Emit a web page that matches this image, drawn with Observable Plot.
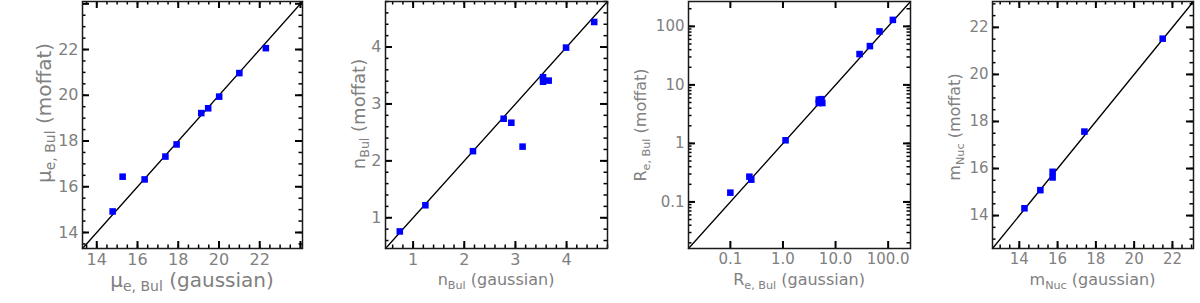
<!DOCTYPE html>
<html>
<head>
<meta charset="utf-8">
<script src="https://cdn.jsdelivr.net/npm/d3@7"></script>
<script src="https://cdn.jsdelivr.net/npm/@observablehq/plot@0.6"></script>
<style>
  html, body { margin: 0; padding: 0; background: #fff; }
  #wrap { position: relative; width: 1200px; height: 303px; overflow: hidden; }
  #wrap svg { position: absolute; left: 0; top: 0; }
</style>
</head>
<body>
<div id="wrap"></div>
<script>
// ---------- data ----------
// Panel 1: mu_e,Bul
const muGauss  = [14.78, 15.27, 16.35, 17.37, 17.92, 19.13, 19.47, 20.01, 21.00, 22.30];
const muMoffat = [14.92, 16.44, 16.32, 17.32, 17.85, 19.22, 19.43, 19.94, 20.97, 22.06];
const muDomain = [13.3, 24.1];
const muTicks = [14, 16, 18, 20, 22];
const muTickLabels = ["14", "16", "18", "20", "22"];

// Panel 2: n_Bul
const nGauss  = [0.74, 1.24, 2.17, 2.77, 2.92, 3.14, 3.54, 3.54, 3.65, 3.99, 4.54];
const nMoffat = [0.76, 1.22, 2.17, 2.74, 2.67, 2.25, 3.47, 3.39, 3.41, 3.99, 4.44];
const nDomain = [0.46, 4.8];
const nTicks = [1, 2, 3, 4];
const nTickLabels = ["1", "2", "3", "4"];

// Panel 3: R_e,Bul (log)
const reGauss  = [0.10, 0.23, 0.25, 1.12, 4.8, 5.4, 4.8, 5.6, 28.6, 45.0, 68.5, 123.0];
const reMoffat = [0.144, 0.27, 0.24, 1.13, 5.6, 5.7, 4.9, 4.9, 33.6, 46.0, 82.0, 129.0];
const reDomain = [0.016, 266];
const reTicks = [0.1, 1, 10, 100];
const reXTickLabels = ["0.1", "1.0", "10.0", "100.0"];
const reYTickLabels = ["0.1", "1", "10", "100"];

// Panel 4: m_Nuc
const mGauss  = [14.27, 15.10, 15.74, 15.74, 17.40, 21.49];
const mMoffat = [14.31, 15.08, 15.86, 15.62, 17.57, 21.52];
const mDomain = [12.6, 23.1];
const mTicks = [14, 16, 18, 20, 22];
const mTickLabels = ["14", "16", "18", "20", "22"];

// ---------- helpers ----------
const W = 1200, H = 303;
const GRAY = "#808080";
const FONT = "DejaVu Sans";

function range(a, b, step) {
  const out = [];
  for (let v = a; v <= b + 1e-9; v += step) out.push(+v.toFixed(6));
  return out;
}
function logMinor(d) {
  const out = [];
  for (let e = -3; e <= 3; e++) for (let k = 1; k <= 9; k++) {
    const v = k * Math.pow(10, e);
    if (v >= d[0] && v <= d[1]) out.push(v);
  }
  return out;
}
const inside = (d) => (v) => v >= d[0] && v <= d[1];

function panel(cfg) {
  const {left, right, top, bottom, type, domain, gx, gy,
         xMajor, xMinor, yMajor, yMinor, xTicks, xLabels, yTicks, yLabels, tickFs} = cfg;
  const iw = right - left, ih = bottom - top;
  const pts = gx.map((x, i) => ({x, y: gy[i]}));
  const diag = domain.map(v => ({x: v, y: v}));
  const majLen = 7, minLen = 3.5;
  const xMaj = xMajor.filter(inside(domain)), xMin = xMinor.filter(inside(domain));
  const yMaj = yMajor.filter(inside(domain)), yMin = yMinor.filter(inside(domain));
  const tickStyle = (w) => ({stroke: "black", strokeWidth: w});
  const svg = Plot.plot({
    width: W, height: H,
    marginLeft: left, marginRight: W - right, marginTop: top, marginBottom: H - bottom,
    style: {background: "transparent", overflow: "visible", fontFamily: FONT},
    x: {type, domain},
    y: {type, domain},
    marks: [
      // minor ticks (inward, all four sides)
      Plot.ruleX(xMin, {...tickStyle(1.5), insetTop: ih - minLen}),
      Plot.ruleX(xMin, {...tickStyle(1.5), insetBottom: ih - minLen}),
      Plot.ruleY(yMin, {...tickStyle(1.5), insetRight: iw - minLen}),
      Plot.ruleY(yMin, {...tickStyle(1.5), insetLeft: iw - minLen}),
      // major ticks
      Plot.ruleX(xMaj, {...tickStyle(2), insetTop: ih - majLen}),
      Plot.ruleX(xMaj, {...tickStyle(2), insetBottom: ih - majLen}),
      Plot.ruleY(yMaj, {...tickStyle(2), insetRight: iw - majLen}),
      Plot.ruleY(yMaj, {...tickStyle(2), insetLeft: iw - majLen}),
      // one-to-one line
      Plot.line(diag, {x: "x", y: "y", stroke: "black", strokeWidth: 1.3}),
      // data points
      Plot.dot(pts, {x: "x", y: "y", symbol: "square", r: 3.7, fill: "#0000ff", stroke: "none"}),
      Plot.frame({stroke: "#1a1a1a", strokeWidth: 1.5}),
      // tick labels
      Plot.axisX({ticks: xTicks, tickSize: 0, tickPadding: 5, label: null,
                  tickFormat: d => xLabels[xTicks.indexOf(d)], fontSize: tickFs, fill: GRAY}),
      Plot.axisY({ticks: yTicks, tickSize: 0, tickPadding: 4, label: null,
                  tickFormat: d => yLabels[yTicks.indexOf(d)], fontSize: tickFs, fill: GRAY})
    ]
  });
  const s = d3.select(svg);
  // axis titles with subscripts
  function title(parts, x, y, fs, rotate) {
    const t = s.append("text")
      .attr("text-anchor", "middle")
      .attr("font-family", FONT)
      .attr("font-size", fs)
      .attr("fill", GRAY)
      .attr("transform", rotate ? `translate(${x},${y}) rotate(-90)` : `translate(${x},${y})`);
    parts.forEach(p => {
      const ts = t.append("tspan").text(p.text);
      if (p.sub) ts.attr("font-size", fs * 0.7).attr("dy", fs * 0.22);
      if (p.after) ts.attr("dy", -fs * 0.22);
    });
  }
  title(cfg.xTitle, (left + right) / 2, cfg.xTitleY, cfg.xTitleFs, false);
  title(cfg.yTitle, cfg.yTitleX, cfg.yTitleY, cfg.yTitleFs, true);
  document.getElementById("wrap").appendChild(svg);
}

const common = {top: 1, bottom: 248};

panel({...common, left: 82, right: 302, type: "linear", domain: muDomain, gx: muGauss, gy: muMoffat,
  xMajor: range(14, 24, 2), xMinor: range(13.5, 24, 0.5), yMajor: range(14, 24, 2), yMinor: range(13.5, 24, 0.5),
  xTicks: muTicks, xLabels: muTickLabels, yTicks: muTicks, yLabels: muTickLabels, tickFs: 16,
  xTitle: [{text: "μ"}, {text: "e, Bul", sub: true}, {text: " (gaussian)", after: true}], xTitleY: 287, xTitleFs: 20,
  yTitle: [{text: "μ"}, {text: "e, Bul", sub: true}, {text: " (moffat)", after: true}], yTitleX: 51, yTitleY: 113, yTitleFs: 20});

panel({...common, left: 385, right: 607, type: "linear", domain: nDomain, gx: nGauss, gy: nMoffat,
  xMajor: range(1, 4, 1), xMinor: range(0.6, 4.8, 0.2), yMajor: range(1, 4, 1), yMinor: range(0.6, 4.8, 0.2),
  xTicks: nTicks, xLabels: nTickLabels, yTicks: nTicks, yLabels: nTickLabels, tickFs: 16,
  xTitle: [{text: "n"}, {text: "Bul", sub: true}, {text: " (gaussian)", after: true}], xTitleY: 285, xTitleFs: 16,
  yTitle: [{text: "n"}, {text: "Bul", sub: true}, {text: " (moffat)", after: true}], yTitleX: 365, yTitleY: 114, yTitleFs: 18});

panel({...common, left: 688, right: 910, type: "log", domain: reDomain, gx: reGauss, gy: reMoffat,
  xMajor: reTicks, xMinor: [], yMajor: reTicks, yMinor: logMinor(reDomain),
  xTicks: reTicks, xLabels: reXTickLabels, yTicks: reTicks, yLabels: reYTickLabels, tickFs: 15,
  xTitle: [{text: "R"}, {text: "e, Bul", sub: true}, {text: " (gaussian)", after: true}], xTitleY: 285, xTitleFs: 16,
  yTitle: [{text: "R"}, {text: "e, Bul", sub: true}, {text: " (moffat)", after: true}], yTitleX: 646, yTitleY: 125, yTitleFs: 16});

panel({...common, left: 992, right: 1193, type: "linear", domain: mDomain, gx: mGauss, gy: mMoffat,
  xMajor: range(14, 22, 2), xMinor: range(12.5, 23, 0.5), yMajor: range(14, 22, 2), yMinor: range(12.5, 23, 0.5),
  xTicks: mTicks, xLabels: mTickLabels, yTicks: mTicks, yLabels: mTickLabels, tickFs: 15,
  xTitle: [{text: "m"}, {text: "Nuc", sub: true}, {text: " (gaussian)", after: true}], xTitleY: 285, xTitleFs: 16,
  yTitle: [{text: "m"}, {text: "Nuc", sub: true}, {text: " (moffat)", after: true}], yTitleX: 960, yTitleY: 127, yTitleFs: 16});
</script>
</body>
</html>
